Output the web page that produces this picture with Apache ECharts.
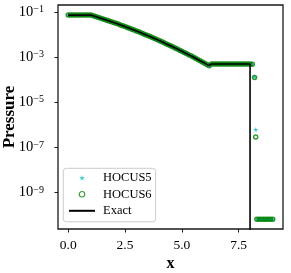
<!DOCTYPE html>
<html>
<head>
<meta charset="utf-8">
<script src="https://cdn.jsdelivr.net/npm/echarts@6/dist/echarts.min.js"></script>
<style>
html,body{margin:0;padding:0;background:#fff;}
#c{width:291px;height:273px;}
</style>
</head>
<body>
<div id="c"></div>
<script>
// ---- data ----
const gridX = [0.0,0.1,0.2,0.3,0.4,0.5,0.6,0.7,0.8,0.9,1.0,
  1.1,1.2,1.3,1.4,1.5,1.6,1.7,1.8,1.9,2.0,
  2.1,2.2,2.3,2.4,2.5,2.6,2.7,2.8,2.9,3.0,
  3.1,3.2,3.3,3.4,3.5,3.6,3.7,3.8,3.9,4.0,
  4.1,4.2,4.3,4.4,4.5,4.6,4.7,4.8,4.9,5.0,
  5.1,5.2,5.3,5.4,5.5,5.6,5.7,5.8,5.9,6.0,
  6.1,6.2,6.3,6.4,6.5,6.6,6.7,6.8,6.9,7.0,
  7.1,7.2,7.3,7.4,7.5,7.6,7.7,7.8,7.9,8.0];
const bodyP = [0.073,0.073,0.073,0.073,0.073,0.073,0.073,0.073,0.073,0.073,0.073,
  0.0676,0.0630,0.0586,0.0545,0.0506,0.0469,0.0434,0.0402,0.0371,0.0343,
  0.0316,0.0291,0.0268,0.0246,0.0226,0.0207,0.0190,0.0173,0.0158,0.0145,
  0.0132,0.0120,0.0109,0.00991,0.00899,0.00815,0.00738,0.00667,0.00602,0.00543,
  0.00490,0.00441,0.00396,0.00356,0.00319,0.00286,0.00256,0.00229,0.00204,0.00182,
  0.00162,0.00144,0.00128,0.00114,0.00101,0.000893,0.000790,0.000698,0.000616,0.000543,
  0.000478,0.00042,0.00050,0.00050,0.00050,0.00050,0.00050,0.00050,0.00050,0.00050,
  0.00050,0.00050,0.00050,0.00050,0.00050,0.00050,0.00050,0.00050,0.00050,0.00050];
// numerical points just past the shock
const shockX = [8.1, 8.2, 8.25];
const hocus5Shock = [0.00048, 1.35e-4, 6.2e-7];
const hocus6Shock = [0.00048, 1.25e-4, 2.9e-7];
// vacuum-side floor values
const tailX = [8.3,8.4,8.5,8.6,8.7,8.8,8.9,9.0];
const tailP = [6.7e-11,6.7e-11,6.7e-11,6.7e-11,6.7e-11,6.7e-11,6.7e-11,6.7e-11];
// exact solution drops to (near) zero at x = 8
const exactTailX = [8.0, 9.0];
const exactTailP = [1e-12, 1e-12];
// axes
const xTicks = [0, 2.5, 5, 7.5];
const yTickExps = [-9, -7, -5, -3, -1];
const xMin = -0.45, xMax = 9.45;
const yMin = 2.45e-11, yMax = 0.204;

function pairs(xs, ys){ return xs.map((x,i)=>[x, ys[i]]); }
const hocus5 = pairs(gridX, bodyP).concat(pairs(shockX, hocus5Shock), pairs(tailX, tailP));
const hocus6 = pairs(gridX, bodyP).concat(pairs(shockX, hocus6Shock), pairs(tailX, tailP));
const exact = pairs(gridX, bodyP).concat(pairs(exactTailX, exactTailP));

const SERIF = 'Liberation Serif';
const STAR = 'path://M50,0 L61,35 L98,35 L68,57 L79,91 L50,70 L21,91 L32,57 L2,35 L39,35 Z';
const yTickVals = yTickExps.map(e=>Math.pow(10,e));

const chart = echarts.init(document.getElementById('c'), null, {renderer:'canvas'});
chart.setOption({
  animation:false,
  backgroundColor:'#fff',
  textStyle:{fontFamily:SERIF, color:'#000'},
  grid:{left:58, right:8, top:5, bottom:44, show:true, borderColor:'#1a1a1a', borderWidth:1.3, backgroundColor:'transparent', outerBoundsMode:'none'},
  xAxis:{
    type:'value', min:xMin, max:xMax,
    name:'x', nameLocation:'middle', nameGap:27, nameMoveOverlap:false,
    nameTextStyle:{fontFamily:SERIF, fontWeight:'bold', fontSize:16, color:'#000'},
    axisLine:{show:false, onZero:false},
    axisTick:{show:true, inside:false, length:3.5, lineStyle:{color:'#1a1a1a', width:1}, customValues:xTicks},
    axisLabel:{customValues:xTicks, margin:9, fontFamily:SERIF, fontSize:13.5, color:'#000', formatter:v=>Number(v).toFixed(1)},
    splitLine:{show:false}
  },
  yAxis:{
    type:'log', logBase:10, min:yMin, max:yMax,
    name:'Pressure', nameLocation:'middle', nameGap:40, nameRotate:90, nameMoveOverlap:false,
    nameTextStyle:{fontFamily:SERIF, fontWeight:'bold', fontSize:17, color:'#000'},
    axisLine:{show:false, onZero:false},
    axisTick:{show:true, inside:false, length:3.5, lineStyle:{color:'#1a1a1a', width:1}, customValues:yTickVals},
    minorTick:{show:false},
    axisLabel:{
      customValues:yTickVals, margin:14,
      formatter:v=>{ const e=Math.round(Math.log10(v)); return '{b|10}{s|\u2212'+Math.abs(e)+'}'; },
      rich:{
        b:{fontFamily:SERIF, fontSize:14.5, lineHeight:15, color:'#000'},
        s:{fontFamily:SERIF, fontSize:10, lineHeight:8, verticalAlign:'top', color:'#000'}
      }
    },
    splitLine:{show:false}
  },
  legend:{
    orient:'vertical', left:63.3, top:168.3,
    padding:[3,4,4.5,4.7],
    itemWidth:26, itemHeight:5.5, itemGap:3.5,
    backgroundColor:'#fff', borderColor:'#cccccc', borderWidth:1, borderRadius:3,
    symbolKeepAspect:true,
    textStyle:{fontFamily:SERIF, fontSize:12.5, lineHeight:13, color:'#000', padding:[0,0,0,3]},
    data:[{name:'HOCUS5'},
          {name:'HOCUS6', itemStyle:{borderWidth:1.1}},
          {name:'Exact', itemStyle:{color:'rgba(0,0,0,0)', borderWidth:0, opacity:0}}]
  },
  series:[
    {name:'HOCUS5', type:'scatter', data:hocus5, symbol:STAR, symbolSize:5,
     itemStyle:{color:'#00bfbf'}, z:2},
    {name:'HOCUS6', type:'scatter', data:hocus6, symbol:'circle', symbolSize:4,
     itemStyle:{color:'rgba(0,0,0,0)', borderColor:'#008000', borderWidth:1.5}, z:3},
    {name:'Exact', type:'line', data:exact, symbol:'none', showSymbol:false,
     lineStyle:{color:'#000', width:1.6}, itemStyle:{color:'#000'}, z:4, clip:true}
  ]
});
</script>
</body>
</html>
